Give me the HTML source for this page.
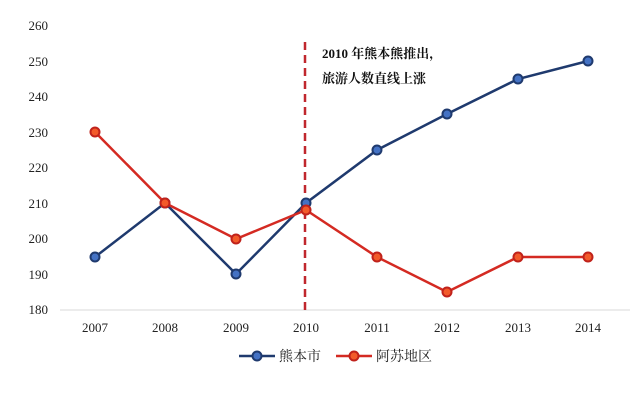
<!DOCTYPE html>
<html><head><meta charset="utf-8"><style>body{margin:0;background:#fff}svg{display:block}</style></head><body>
<svg width="640" height="406" xmlns="http://www.w3.org/2000/svg" font-family="'Liberation Serif','Noto Serif CJK SC',serif" font-size="13" fill="#222">
<g text-anchor="end">
<text x="48" y="30">260</text><text x="48" y="66">250</text><text x="48" y="101">240</text><text x="48" y="137">230</text><text x="48" y="172">220</text><text x="48" y="208">210</text><text x="48" y="243">200</text><text x="48" y="279">190</text><text x="48" y="314">180</text>
</g>
<line x1="60" y1="310" x2="630" y2="310" stroke="#d9d9d9" stroke-width="1"/>
<g text-anchor="middle">
<text x="95" y="332">2007</text><text x="165" y="332">2008</text><text x="236" y="332">2009</text><text x="306" y="332">2010</text><text x="377" y="332">2011</text><text x="447" y="332">2012</text><text x="518" y="332">2013</text><text x="588" y="332">2014</text>
</g>
<line x1="305" y1="42" x2="305" y2="310" stroke="#c0272d" stroke-width="2.5" stroke-dasharray="8,5"/>
<text x="322" y="58" font-weight="bold" font-size="13" fill="#111">2010 年熊本熊推出，</text>
<text x="322" y="83" font-weight="bold" font-size="13" fill="#111">旅游人数直线上涨</text>
<polyline fill="none" stroke="#1f3a6e" stroke-width="2.5" points="95,257 165,203 236,274 306,203 377,150 447,114 518,79 588,61"/>
<g fill="#4472c4" stroke="#1f3a6e" stroke-width="2">
<circle cx="95" cy="257" r="4.5"/><circle cx="165" cy="203" r="4.5"/><circle cx="236" cy="274" r="4.5"/><circle cx="306" cy="203" r="4.5"/><circle cx="377" cy="150" r="4.5"/><circle cx="447" cy="114" r="4.5"/><circle cx="518" cy="79" r="4.5"/><circle cx="588" cy="61" r="4.5"/>
</g>
<polyline fill="none" stroke="#d42a22" stroke-width="2.5" points="95,132 165,203 236,239 306,210 377,257 447,292 518,257 588,257"/>
<g fill="#f25a2a" stroke="#c0221b" stroke-width="2">
<circle cx="95" cy="132" r="4.5"/><circle cx="165" cy="203" r="4.5"/><circle cx="236" cy="239" r="4.5"/><circle cx="306" cy="210" r="4.5"/><circle cx="377" cy="257" r="4.5"/><circle cx="447" cy="292" r="4.5"/><circle cx="518" cy="257" r="4.5"/><circle cx="588" cy="257" r="4.5"/>
</g>
<line x1="239" y1="356" x2="275" y2="356" stroke="#1f3a6e" stroke-width="2.5"/>
<circle cx="257" cy="356" r="4.5" fill="#4472c4" stroke="#1f3a6e" stroke-width="2"/>
<text x="279" y="361" font-size="14">熊本市</text>
<line x1="336" y1="356" x2="372" y2="356" stroke="#d42a22" stroke-width="2.5"/>
<circle cx="354" cy="356" r="4.5" fill="#f25a2a" stroke="#c0221b" stroke-width="2"/>
<text x="376" y="361" font-size="14">阿苏地区</text>
</svg>
</body></html>
